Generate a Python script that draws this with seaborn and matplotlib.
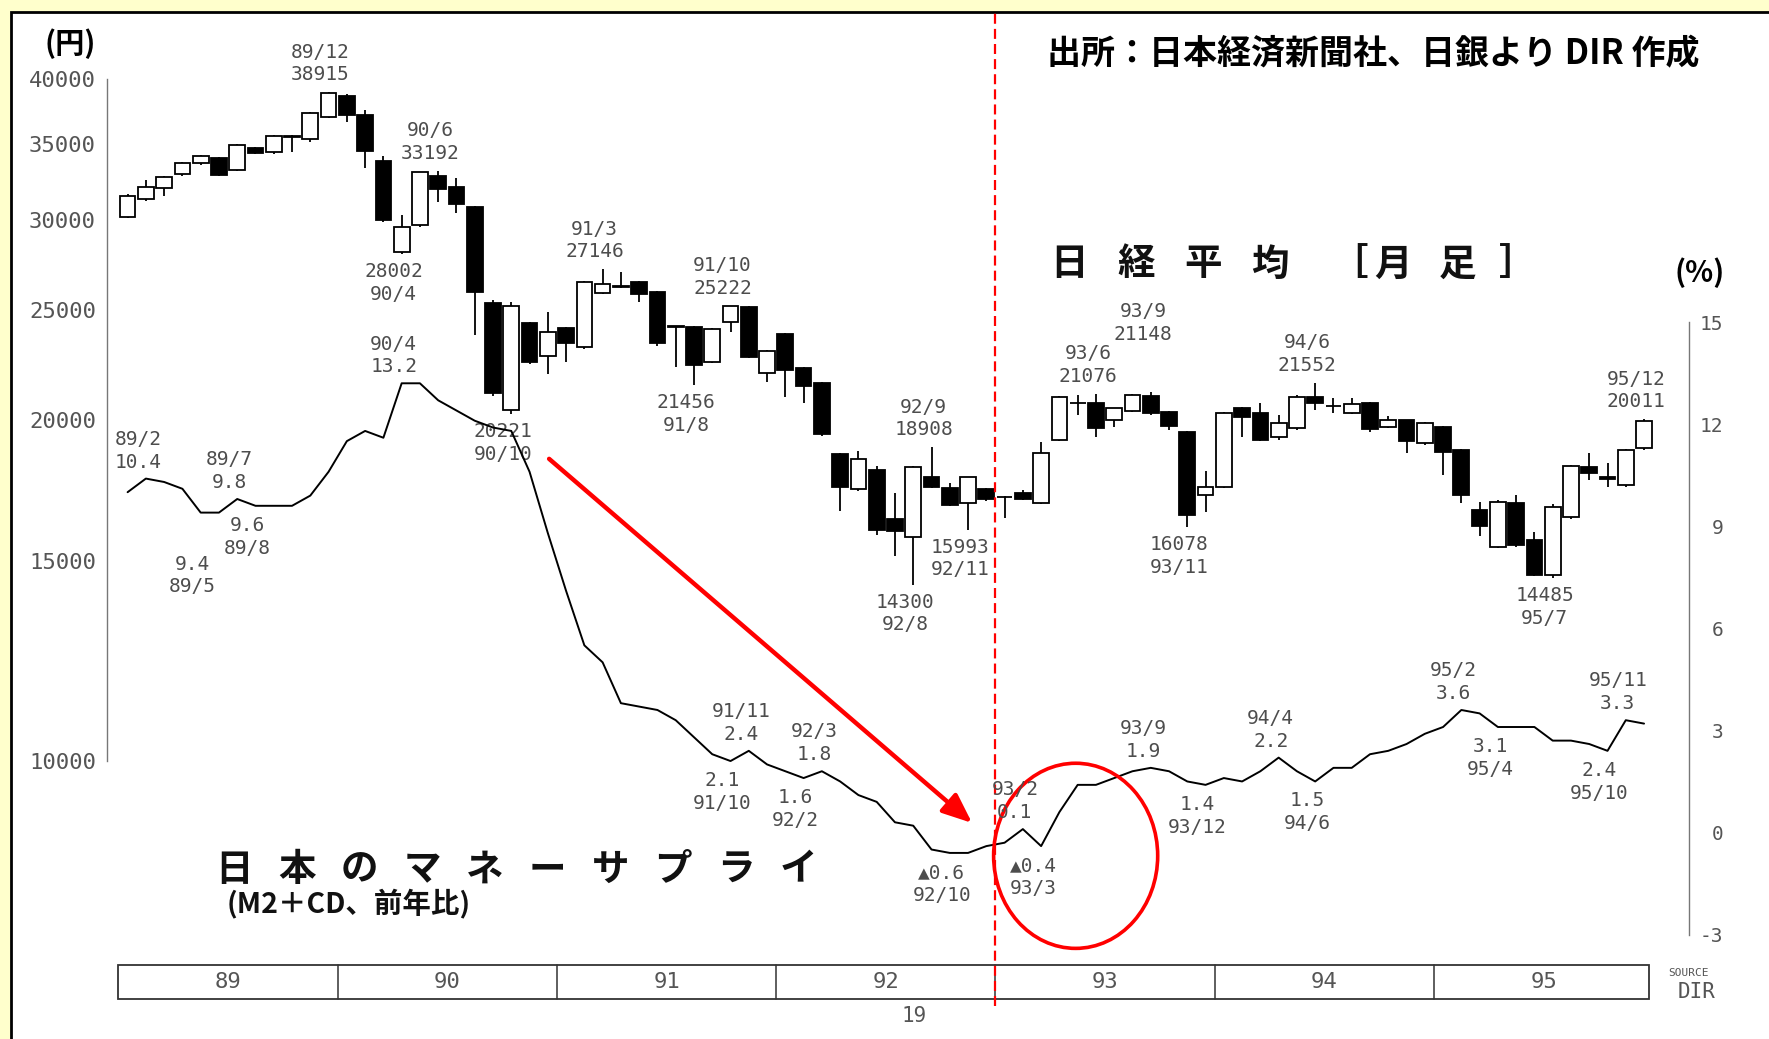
import numpy as np
import matplotlib
matplotlib.use("Agg")
import matplotlib.pyplot as plt
import matplotlib.transforms as mtransforms
from matplotlib.patches import Rectangle, Ellipse
from matplotlib.ticker import NullLocator
import seaborn as sns

# ---------------------------------------------------------------- data ----
months = [f"{yy}/{mm}" for yy in range(89, 96) for mm in range(1, 13)]
years = ["89", "90", "91", "92", "93", "94", "95"]

nikkei_open = [
    30210, 31320, 32010, 32930, 33720, 34020, 33220, 34760, 34440, 35600, 35360, 37030,
    38620, 37160, 33840, 28100, 29710, 32820, 32080, 30840, 25370, 20400, 24330, 22760,
    24080, 23200, 25890, 26250, 26470, 25940, 24190, 24130, 22500, 24400, 25130, 22000,
    23800, 22200, 21530, 18650, 17360, 18050, 16330, 15740, 17810, 17410, 16890, 17360,
    17100, 17220, 16890, 19190, 20670, 20670, 19980, 20360, 21000, 20320, 19510, 17160,
    17430, 20460, 20260, 19320, 19650, 20950, 20560, 20280, 20700, 19710, 19980, 19060,
    19710, 18800, 16640, 15450, 16870, 15660, 14580, 16420, 18170, 17800, 17510, 18870,
]
nikkei_high = [
    31650, 32560, 32850, 33750, 34250, 34100, 35000, 34850, 35700, 35650, 37400, 38915,
    38750, 37500, 34200, 30320, 33110, 33192, 32670, 30900, 25500, 25400, 24400, 24900,
    24150, 26500, 27146, 27020, 26500, 26000, 24200, 24200, 24100, 25222, 25200, 23050,
    23850, 22250, 21600, 18700, 18780, 18200, 17220, 18200, 18908, 17600, 17800, 17420,
    17120, 17330, 19120, 20990, 21025, 21076, 20470, 21050, 21148, 20350, 19550, 18030,
    20300, 20500, 20670, 20200, 21020, 21552, 20890, 20890, 20750, 20150, 20000, 19900,
    19750, 18850, 16900, 17000, 17160, 15920, 16850, 18250, 18700, 18300, 18850, 20011,
]
nikkei_low = [
    30150, 31200, 31510, 32800, 33600, 32800, 33150, 34350, 34300, 34480, 35200, 36900,
    36650, 33340, 29900, 28002, 29600, 31150, 30420, 23750, 21000, 20221, 22400, 21940,
    22500, 23100, 25800, 26150, 25420, 23250, 22270, 21456, 22450, 23910, 22650, 21600,
    20950, 20670, 19350, 16620, 17300, 15820, 15160, 14300, 17400, 16790, 15993, 16950,
    16360, 16990, 16850, 19150, 20190, 19320, 19710, 20300, 20200, 19580, 16078, 16580,
    17400, 19320, 19150, 19190, 19600, 20390, 20260, 20250, 19520, 19650, 18670, 19000,
    17870, 16870, 15800, 15400, 15450, 14550, 14485, 16350, 17700, 17450, 17450, 18800,
]
nikkei_close = [
    31510, 32080, 32780, 33680, 34190, 32890, 34950, 34410, 35600, 35550, 37280, 38880,
    37160, 34560, 30010, 29580, 33110, 31950, 31010, 25940, 21100, 25200, 22500, 23910,
    23360, 26470, 26350, 26200, 25820, 23360, 24150, 22350, 24030, 25200, 22730, 23010,
    22120, 21410, 19420, 17450, 18450, 15980, 15950, 18150, 17450, 16810, 17790, 17010,
    17080, 17010, 18700, 20950, 20680, 19650, 20460, 21025, 20260, 19740, 16470, 17430,
    20260, 20090, 19190, 19850, 20950, 20700, 20580, 20645, 19610, 19980, 19160, 19850,
    18740, 17160, 16120, 16930, 15500, 14580, 16750, 18200, 17950, 17720, 18800, 19950,
]

# M2+CD, year-on-year change (%)
money_supply = [
    10.0, 10.4, 10.3, 10.1, 9.4, 9.4, 9.8, 9.6, 9.6, 9.6, 9.9, 10.6,
    11.5, 11.8, 11.6, 13.2, 13.2, 12.7, 12.4, 12.1, 11.9, 11.8, 10.6, 8.8,
    7.1, 5.5, 5.0, 3.8, 3.7, 3.6, 3.3, 2.8, 2.3, 2.1, 2.4, 2.0,
    1.8, 1.6, 1.8, 1.5, 1.1, 0.9, 0.3, 0.2, -0.5, -0.6, -0.6, -0.4,
    -0.3, 0.1, -0.4, 0.6, 1.4, 1.4, 1.6, 1.8, 1.9, 1.8, 1.5, 1.4,
    1.6, 1.5, 1.8, 2.2, 1.8, 1.5, 1.9, 1.9, 2.3, 2.4, 2.6, 2.9,
    3.1, 3.6, 3.5, 3.1, 3.1, 3.1, 2.7, 2.7, 2.6, 2.4, 3.3, 3.2,
]

price_ticks = [10000, 15000, 20000, 25000, 30000, 35000, 40000]
pct_ticks = [-3, 0, 3, 6, 9, 12, 15]

nikkei_peaks = ["89/12", "90/6", "91/3", "91/10", "92/9", "93/6", "93/9", "94/6", "95/12"]
nikkei_troughs = ["90/4", "90/10", "91/8", "92/8", "92/11", "93/11", "95/7"]
ms_peaks = ["89/2", "89/7", "90/4", "91/11", "92/3", "93/2", "93/9", "94/4", "95/2", "95/11"]
ms_troughs = ["89/5", "89/8", "91/10", "92/2", "92/10", "93/3", "93/12", "94/6", "95/4", "95/10"]

# ------------------------------------------------------------- styling ----
W, H = 1769, 1039
sns.set_theme(style="white")
plt.rcParams["font.family"] = ["DejaVu Sans", "Noto Sans CJK JP"]
MONO = ["DejaVu Sans Mono", "DejaVu Sans"]
CJK = ["Noto Sans CJK JP", "DejaVu Sans"]
INK = "#4d4d4d"

fig = plt.figure(figsize=(W / 100, H / 100), dpi=100)
fig.patch.set_facecolor("#FFFFCC")

# white sheet with black border
fig.add_artist(Rectangle((11 / W, -0.01), 1.02, 1 - 12 / H + 0.01, transform=fig.transFigure,
                         facecolor="white", edgecolor="black", lw=2, zorder=-10))

ax = fig.add_axes([107 / W, 39 / H, 1582 / W, 940 / H])
ax.patch.set_visible(False)
ax2 = ax.twinx()

x = np.arange(len(months))
o = np.array(nikkei_open, float)
hi = np.array(nikkei_high, float)
lo = np.array(nikkei_low, float)
c = np.array(nikkei_close, float)

# ---- candlesticks
ax.vlines(x, lo, hi, color="black", lw=1.3, zorder=2)
up = c >= o
body_bottom = np.minimum(o, c)
body_h = np.maximum(np.abs(c - o), 1.0)
ax.bar(x[up], body_h[up], bottom=body_bottom[up], width=0.86, color="white",
       edgecolor="black", linewidth=1.3, zorder=3)
ax.bar(x[~up], body_h[~up], bottom=body_bottom[~up], width=0.86, color="black",
       edgecolor="black", linewidth=1.3, zorder=3)

ax.set_yscale("log")
ax.set_xlim(-1.1275, 85.46)
ax.set_ylim(6145, 41555)
ax.set_yticks(price_ticks)
ax.set_yticklabels([str(t) for t in price_ticks], family=MONO)
ax.yaxis.set_minor_locator(NullLocator())
ax.tick_params(axis="y", length=0, pad=8, labelsize=16, labelcolor="#555555")
ax.set_xticks([])
for s in ["top", "right", "bottom"]:
    ax.spines[s].set_visible(False)
ax.spines["left"].set_bounds(10000, 40000)
ax.spines["left"].set_color("#777777")
ax.spines["left"].set_linewidth(1.0)

# ---- money supply line
sns.lineplot(x=x, y=money_supply, ax=ax2, color="black", lw=1.4, zorder=4)
ax2.set_ylim(-4.922, 22.70)
ax2.set_yticks(pct_ticks)
ax2.set_yticklabels([str(t) for t in pct_ticks], family=MONO)
ax2.tick_params(axis="y", length=0, pad=24.5, labelsize=14, labelcolor="#555555")
for lbl in ax2.get_yticklabels():
    lbl.set_horizontalalignment("right")
ax2.set_xticks([])
ax2.set_ylabel("")
ax2.set_xlabel("")
for s in ["top", "left", "bottom"]:
    ax2.spines[s].set_visible(False)
ax2.spines["right"].set_bounds(-3, 15)
ax2.spines["right"].set_color("#777777")
ax2.spines["right"].set_linewidth(1.0)
ax.set_ylabel("")


# ---- point labels
def tag(axis, i, y, text, above, gap):
    axis.annotate(text, xy=(i, y), xytext=(-8, gap if above else -gap),
                  textcoords="offset pixels", ha="center",
                  va="bottom" if above else "top", fontsize=14, family=MONO,
                  color=INK, linespacing=1.25, annotation_clip=False, zorder=6)


def pct(v):
    return f"{v:.1f}" if v >= 0 else f"▲{abs(v):.1f}"


extra_high = {"93/9": 40}
extra_ms_low = {"89/5": 32}

for m in nikkei_peaks:
    i = months.index(m)
    tag(ax, i, hi[i], f"{m}\n{int(hi[i])}", True, 8 + extra_high.get(m, 0))
for m in nikkei_troughs:
    i = months.index(m)
    tag(ax, i, lo[i], f"{int(lo[i])}\n{m}", False, 8)
for m in ms_peaks:
    i = months.index(m)
    tag(ax2, i, money_supply[i], f"{m}\n{pct(money_supply[i])}", True, 7)
for m in ms_troughs:
    i = months.index(m)
    tag(ax2, i, money_supply[i], f"{pct(money_supply[i])}\n{m}", False,
        10 + extra_ms_low.get(m, 0))

# ---- year strip under the chart
strip = mtransforms.blended_transform_factory(ax.transData, ax.transAxes)
y0, y1 = (1000 - 998.5) / 940, (1000 - 964.5) / 940
ax.add_patch(Rectangle((-0.504, y0), 83.77, y1 - y0, transform=strip, fill=False,
                       edgecolor="#333333", lw=1.3, clip_on=False))
for k, yr in enumerate(years):
    if k > 0:
        ax.plot([12 * k - 0.5] * 2, [y0, y1], transform=strip, color="#333333",
                lw=1.1, clip_on=False)
    ax.text(12 * k + 5.5, (y0 + y1) / 2, yr, transform=strip, ha="center", va="center",
            fontsize=16, family=MONO, color="#555555")

# ---- 1993 marker, arrow and circle
ax.axvline(47.5, ymin=(1000 - 1006) / 940, ymax=(1000 - 12) / 940, color="red",
           ls=(0, (4.5, 2.3)), lw=1.6, clip_on=False, zorder=5)
ax2.annotate("", xy=(46.22, 0.28), xytext=(23.07, 10.98),
             arrowprops=dict(arrowstyle="-|>,head_length=0.6,head_width=0.25",
                             color="red", lw=3.2, mutation_scale=30,
                             shrinkA=0, shrinkB=0), zorder=5)
ax2.add_patch(Ellipse((51.89, -0.685), 8.98, 5.44, fill=False, edgecolor="red",
                      lw=2.6, clip_on=False, zorder=5))


# ---- headings and notes
def ftext(px, py, s, **kw):
    fig.text(px / W, 1 - py / H, s, **kw)


ftext(1047, 54, "出所：日本経済新聞社、日銀より DIR 作成", ha="left", va="center",
      fontsize=24.5, family=CJK, weight="bold", color="black")
ftext(70, 44, "(円)", ha="center", va="center", fontsize=21, family=CJK,
      weight="bold", color="black")
ftext(1700, 273, "(%)", ha="center", va="center", fontsize=21, family=CJK,
      weight="bold", color="black")

title_chars = ["日", "経", "平", "均", "［", "月", "足", "］"]
title_x = [1069, 1136, 1203, 1270, 1349, 1393, 1457, 1518]
for ch, cx in zip(title_chars, title_x):
    ftext(cx, 264, ch, ha="center", va="center", fontsize=27, family=CJK,
          weight="bold", color="#111111")

ms_title = "日本のマネーサプライ"
for k, ch in enumerate(ms_title):
    ftext(234 + 62.7 * k, 869, ch, ha="center", va="center", fontsize=27, family=CJK,
          weight="bold", color="#111111")
ftext(227, 903, "(M2＋CD、前年比)", ha="left", va="center", fontsize=20.5,
      family=CJK, weight="bold", color="#111111")

ftext(1688, 973, "SOURCE", ha="center", va="center", fontsize=8, family=MONO, color="#555555")
ftext(1697, 992, "DIR", ha="center", va="center", fontsize=15, family=MONO, color="#555555")
ftext(914, 1016, "19", ha="center", va="center", fontsize=15, family=MONO, color="#555555")

fig.savefig("out.png", dpi=100, facecolor=fig.get_facecolor())
